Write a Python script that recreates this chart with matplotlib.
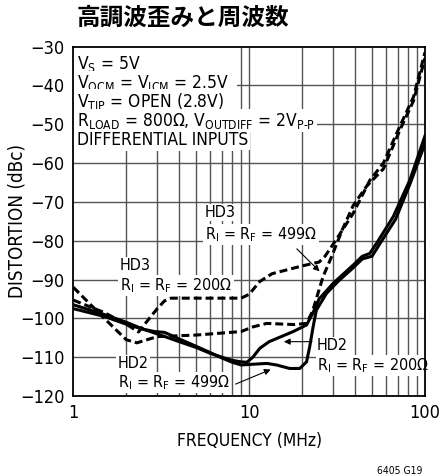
import matplotlib
matplotlib.use("Agg")
import matplotlib.pyplot as plt
from matplotlib.patches import Rectangle

plt.rcParams["font.family"] = ["DejaVu Sans"]
plt.rcParams["font.stretch"] = "condensed"
plt.rcParams["mathtext.default"] = "regular"

# HD2, RI = RF = 200 ohm (solid)
hd2_200_f = [1, 1.5, 2, 2.5, 3, 4, 5, 6, 7, 8, 9, 9.7, 10.5, 11.5, 13, 17.8,
             21.2, 23, 25, 30, 39, 44, 48.5, 53, 66, 82, 100]
hd2_200_db = [-96.5, -99, -101, -102.8, -104, -106, -107.5, -109, -110, -110.8,
              -111.2, -111.3, -110, -107.7, -106, -103.4, -101.7, -98.7, -95,
              -91, -86.3, -84, -83.3, -80.7, -73.8, -64.4, -53]

# HD2, RI = RF = 499 ohm (solid)
hd2_499_f = [1, 1.5, 2, 2.5, 2.9, 3.3, 4, 5, 6, 7, 8, 9, 12.6, 14.3, 17, 19.4,
             21.2, 22.1, 23.1, 24.1, 27.5, 32, 39, 44, 50, 55, 68, 82, 100]
hd2_499_db = [-97.5, -99.5, -101.5, -102.8, -103.4, -103.6, -105.3, -107.2,
              -108.8, -110.2, -111.3, -112, -111.6, -112, -112.9, -112.9,
              -111.2, -107.3, -102.2, -97.9, -93.6, -90.5, -87, -84.7, -84,
              -81, -74.5, -65.5, -55]

# HD3, RI = RF = 200 ohm (dashed)
hd3_200_f = [1, 1.5, 2, 2.35, 2.6, 3, 3.3, 3.6, 9, 10, 11.5, 13.5, 20, 25, 27,
             31, 39, 48.5, 58, 72, 86, 100]
hd3_200_db = [-95.3, -98.5, -101.5, -103.5, -101, -97.5, -95.5, -94.8, -94.8,
              -93.8, -90.5, -88.5, -86.5, -85.5, -84, -80, -73, -64.5, -60,
              -50.5, -43, -31.5]

# HD3, RI = RF = 499 ohm (dashed)
hd3_499_f = [1, 1.5, 2, 2.3, 3, 5, 9, 10.5, 12.6, 18, 21.2, 23, 26.3, 29.5, 34,
             39, 46.5, 58, 72, 86, 100]
hd3_499_db = [-92, -100, -105.5, -106.3, -104.7, -104.3, -103.4, -102.2,
              -101.3, -101.6, -101.3, -98, -89.3, -84, -77, -71, -66, -61.5,
              -51.5, -44, -33]

y_ticks = [-30, -40, -50, -60, -70, -80, -90, -100, -110, -120]
x_ticks = [1, 10, 100]
x_tick_labels = ["1", "10", "100"]

fig = plt.figure(figsize=(4.4, 4.76), dpi=100)
ax = fig.add_axes([0.1666, 0.168, 0.7993, 0.7343])
ax.set_xscale("log")
ax.set_xlim(1, 100)
ax.set_ylim(-120, -30)

grid_kw = dict(color="#555555", linewidth=1.0, zorder=1)
for dec in (1, 10):
    for m in range(2, 10):
        ax.axvline(dec * m, **grid_kw)
ax.axvline(10, **grid_kw)
for yv in y_ticks[1:-1]:
    ax.axhline(yv, **grid_kw)

ax.set_yticks(y_ticks)
ax.set_yticklabels([str(v).replace("-", "\u2212") for v in y_ticks], fontsize=13)
ax.set_xticks(x_ticks)
ax.set_xticklabels(x_tick_labels, fontsize=13)
ax.xaxis.set_minor_locator(matplotlib.ticker.NullLocator())
ax.tick_params(length=0, pad=6)
for s in ax.spines.values():
    s.set_linewidth(1.3)
    s.set_zorder(6)

lw = 2.2
ax.plot(hd3_200_f, hd3_200_db, color="black", lw=lw, dashes=(2.6, 1.3), zorder=3)
ax.plot(hd3_499_f, hd3_499_db, color="black", lw=lw, dashes=(2.6, 1.3), zorder=3)
ax.plot(hd2_200_f, hd2_200_db, color="black", lw=lw, zorder=3)
ax.plot(hd2_499_f, hd2_499_db, color="black", lw=lw, zorder=3)

# conditions box in the upper left
ax.add_patch(Rectangle((1, -57), 7.5, 27, facecolor="white", edgecolor="none", zorder=2))
cond = [r"V$_{S}$ = 5V",
        r"V$_{OCM}$ = V$_{ICM}$ = 2.5V",
        r"V$_{TIP}$ = OPEN (2.8V)",
        "R$_{LOAD}$ = 800Ω, V$_{OUTDIFF}$ = 2V$_{P\u2010P}$",
        "DIFFERENTIAL INPUTS"]
for i, line in enumerate(cond):
    ax.text(1.05, -35.7 - i * 4.9, line, fontsize=12.5, va="baseline", ha="left",
            zorder=4, bbox=dict(facecolor="white", edgecolor="none", pad=1))

lbl = dict(fontsize=11.5, ha="left", va="baseline", zorder=4,
           bbox=dict(facecolor="white", edgecolor="none", pad=1))
ax.text(5.6, -73.9, "HD3", **lbl)
ax.text(5.6, -79.6, r"R$_{I}$ = R$_{F}$ = 499Ω", **lbl)
ax.text(1.84, -87.6, "HD3", **lbl)
ax.text(1.84, -92.7, r"R$_{I}$ = R$_{F}$ = 200Ω", **lbl)
ax.text(24.3, -108.2, "HD2", **lbl)
ax.text(24.3, -113.3, r"R$_{I}$ = R$_{F}$ = 200Ω", **lbl)
ax.text(1.79, -112.8, "HD2", **lbl)
ax.text(1.79, -117.7, r"R$_{I}$ = R$_{F}$ = 499Ω", **lbl)

arr = dict(arrowstyle="-|>", color="black", lw=0.8, mutation_scale=9)
ax.annotate("", xy=(25.8, -88.4), xytext=(18.2, -81.6), arrowprops=arr, zorder=5)
ax.annotate("", xy=(15.2, -106.0), xytext=(23.6, -106.0), arrowprops=arr, zorder=5)
ax.annotate("", xy=(13.7, -112.9), xytext=(8.1, -117.2), arrowprops=arr, zorder=5)

ax.set_xlabel("FREQUENCY (MHz)", fontsize=12.5)
ax.xaxis.set_label_coords(0.5, -0.104)
ax.set_ylabel("DISTORTION (dBc)", fontsize=13.5)
ax.yaxis.set_label_coords(-0.134, 0.5)
fig.text(0.415, 0.962, "高調波歪みと周波数", fontsize=17, fontweight="bold",
         ha="center", va="center", family=["Noto Sans CJK JP", "DejaVu Sans"])
fig.text(0.96, 0.0, "6405 G19", fontsize=7.5, ha="right", va="bottom")

fig.savefig("out.png", dpi=100)
